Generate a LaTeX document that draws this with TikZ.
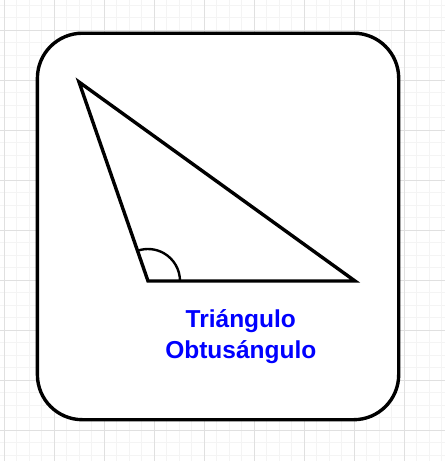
\documentclass[tikz,border=0pt]{standalone}
\usepackage{fontspec}
\setmainfont{Liberation Sans}
\usetikzlibrary{calc}
\definecolor{gminor}{HTML}{F4F4F4}
\definecolor{gmajor}{HTML}{E0E0E0}
\definecolor{tblue}{HTML}{0000FF}
\tikzset{
  cardbox/.style={draw=black, fill=white, line width=3.4pt, rounded corners=45pt,
                  inner sep=0pt},
  sidearr/.style={line width=3.4pt, line join=miter, black},
  anglearc/.style={line width=2.4pt, black},
  captiontext/.style={text=tblue, align=center, inner sep=0pt,
                      font=\fontsize{24.5}{31}\selectfont\bfseries},
}

\begin{document}
\begin{tikzpicture}[x=1pt, y=-1pt]
  \useasboundingbox (0,0) rectangle (445,461);

  % Grid
  \foreach \k in {0,...,35}
    \draw[gminor, line width=1pt] ({4.3+12.5*\k},0) -- ({4.3+12.5*\k},461);
  \foreach \k in {0,...,36}
    \draw[gminor, line width=1pt] (0,{5+12.5*\k}) -- (445,{5+12.5*\k});
  \foreach \k in {0,...,8}
    \draw[gmajor, line width=1pt] ({4.3+50*\k},0) -- ({4.3+50*\k},461);
  \foreach \k in {0,...,8}
    \draw[gmajor, line width=1pt] (0,{30+50*\k}) -- (445,{30+50*\k});

  % Card
  \node[cardbox, minimum width=361.3pt, minimum height=386.5pt, anchor=north west] (card) at (35.7,31.5) {};

  % Triangle
  \coordinate (apex) at (79,82);
  \coordinate (obtuse) at (148,281);
  \coordinate (acute) at (355,281);
  \draw[sidearr] (apex) -- (obtuse) -- (acute) -- cycle;

  % Obtuse angle
  \draw[anglearc] ($(obtuse)+(32,0)$) arc[start angle=0, end angle=-109.4, radius=32];

  % Caption
  \node[captiontext] (caption) at (240.8,337) {Triángulo\\Obtusángulo};

\end{tikzpicture}
\end{document}
